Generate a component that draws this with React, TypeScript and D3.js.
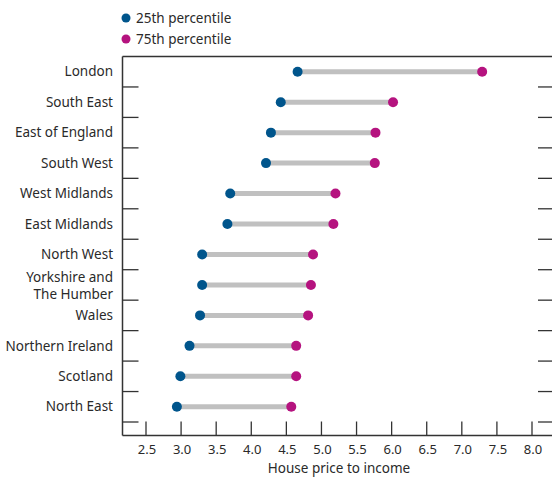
import React from "react";
import * as d3 from "d3";

const regions = [
  "London",
  "South East",
  "East of England",
  "South West",
  "West Midlands",
  "East Midlands",
  "North West",
  "Yorkshire and The Humber",
  "Wales",
  "Northern Ireland",
  "Scotland",
  "North East",
];
const p25 = [4.66, 4.42, 4.28, 4.21, 3.7, 3.66, 3.3, 3.3, 3.27, 3.12, 2.99, 2.94];
const p75 = [7.29, 6.02, 5.77, 5.76, 5.2, 5.17, 4.88, 4.85, 4.81, 4.64, 4.64, 4.57];
const xTicks = [2.5, 3.0, 3.5, 4.0, 4.5, 5.0, 5.5, 6.0, 6.5, 7.0, 7.5, 8.0];

const BLUE = "#00558c";
const MAGENTA = "#b5137f";
const FONT = "'Noto Sans', sans-serif";
const TEXT = "#2a2a2a";

export default function App() {
  const W = 552, H = 477;
  const left = 122.5, right = 552, top = 56.5, bandBottom = 422, bottom = 435.5;
  const x = d3.scaleLinear().domain([2.5, 8]).range([146, 532]);
  const y = d3.scaleBand<string>().domain(regions).range([top, bandBottom]);
  const bw = y.bandwidth();
  const axisColor = "#333";

  return (
    <svg width={W} height={H} style={{ position: "absolute", left: 0, top: 0 }} fontFamily={FONT}>
      {/* legend */}
      <circle cx={126} cy={18} r={4.5} fill={BLUE} />
      <text x={136} y={18} dy="0.35em" fontSize={13.5} fill={TEXT}>25th percentile</text>
      <circle cx={126} cy={39} r={4.5} fill={MAGENTA} />
      <text x={136} y={39} dy="0.35em" fontSize={13.5} fill={TEXT}>75th percentile</text>

      {/* frame */}
      <line x1={left} x2={right} y1={top} y2={top} stroke={axisColor} strokeWidth={1.5} />
      <line x1={left} x2={left} y1={top} y2={bottom} stroke={axisColor} strokeWidth={1.5} />
      <line x1={left} x2={right} y1={bottom} y2={bottom} stroke={axisColor} strokeWidth={1.5} />

      {/* y category separator ticks */}
      {regions.map((r, i) => {
        const yy = (y(r) as number) + bw;
        return (
          <g key={"t" + i}>
            <line x1={left} x2={left + 16} y1={yy} y2={yy} stroke={axisColor} strokeWidth={1.3} />
            <line x1={right - 14} x2={right} y1={yy} y2={yy} stroke={axisColor} strokeWidth={1.3} />
          </g>
        );
      })}

      {/* x ticks */}
      {xTicks.map((t) => (
        <g key={"x" + t}>
          <line x1={x(t)} x2={x(t)} y1={bottom - 14} y2={bottom} stroke={axisColor} strokeWidth={1.3} />
          <text x={x(t) + 1} y={449} dy="0.35em" textAnchor="middle" fontSize={13} fill={TEXT}>
            {t.toFixed(1)}
          </text>
        </g>
      ))}
      <text x={x(5.25)} y={468} dy="0.35em" textAnchor="middle" fontSize={13.5} fill={TEXT}>
        House price to income
      </text>

      {/* labels */}
      {regions.map((r, i) => {
        const cy = (y(r) as number) + bw / 2;
        if (r === "Yorkshire and The Humber") {
          return (
            <text key={"l" + i} x={113} textAnchor="end" fontSize={13.5} fill={TEXT}>
              <tspan x={113} y={cy - 8} dy="0.35em">Yorkshire and</tspan>
              <tspan x={113} y={cy + 9} dy="0.35em">The Humber</tspan>
            </text>
          );
        }
        return (
          <text key={"l" + i} x={113} y={cy} dy="0.35em" textAnchor="end" fontSize={13.5} fill={TEXT}>
            {r}
          </text>
        );
      })}

      {/* dumbbells */}
      {regions.map((r, i) => {
        const cy = (y(r) as number) + bw / 2;
        return (
          <g key={"d" + i}>
            <line x1={x(p25[i])} x2={x(p75[i])} y1={cy} y2={cy} stroke="#c0c0c0" strokeWidth={5} />
            <circle cx={x(p25[i])} cy={cy} r={5} fill={BLUE} />
            <circle cx={x(p75[i])} cy={cy} r={5} fill={MAGENTA} />
          </g>
        );
      })}
    </svg>
  );
}
